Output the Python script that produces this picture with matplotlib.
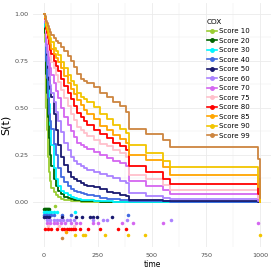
import matplotlib
matplotlib.use("Agg")
import matplotlib.pyplot as plt
from matplotlib.lines import Line2D

groups = ["Score 10", "Score 20", "Score 30", "Score 40", "Score 50", "Score 60",
          "Score 70", "Score 75", "Score 80", "Score 85", "Score 90", "Score 99"]
colors = ["#9ACD32", "#006400", "#00F5FF", "#4169E1", "#191970", "#AB82FF",
          "#D466F0", "#FFC0CB", "#FF0000", "#FFA500", "#F2C500", "#CD853F"]

times = [0, 4, 8, 12, 15, 20, 25, 30, 35, 45, 55, 65, 80, 95, 110, 125, 140, 155,
         170, 185, 200, 230, 260, 290, 320, 350, 380, 392, 470, 550, 585, 990, 1000]

surv_10 = [1.0, 0.85, 0.68, 0.5, 0.38, 0.24, 0.16, 0.11, 0.075, 0.05, 0.038, 0.028, 0.018,
           0.012, 0.008, 0.005, 0.004, 0.003, 0.002, 0.002, 0.001, 0.001, 0.001, 0.0, 0.0,
           0.0, 0.0, 0.0, 0.0, 0.0, 0.0, 0.0, 0.0]
surv_20 = [1.0, 0.9, 0.8, 0.68, 0.58, 0.45, 0.34, 0.25, 0.19, 0.12, 0.085, 0.06, 0.04,
           0.027, 0.019, 0.013, 0.01, 0.008, 0.006, 0.005, 0.004, 0.003, 0.002, 0.002,
           0.001, 0.001, 0.001, 0.001, 0.0, 0.0, 0.0, 0.0, 0.0]
surv_30 = [1.0, 0.93, 0.86, 0.78, 0.72, 0.62, 0.52, 0.41, 0.3, 0.18, 0.12, 0.085, 0.06,
           0.045, 0.034, 0.026, 0.02, 0.016, 0.012, 0.01, 0.008, 0.006, 0.004, 0.003,
           0.002, 0.002, 0.002, 0.001, 0.001, 0.001, 0.001, 0.0, 0.0]
surv_40 = [1.0, 0.95, 0.87, 0.75, 0.66, 0.55, 0.47, 0.43, 0.39, 0.31, 0.25, 0.18, 0.135,
           0.105, 0.085, 0.07, 0.058, 0.05, 0.045, 0.04, 0.035, 0.029, 0.023, 0.018,
           0.014, 0.011, 0.008, 0.005, 0.004, 0.003, 0.002, 0.001, 0.0]
surv_50 = [1.0, 0.97, 0.92, 0.85, 0.78, 0.71, 0.65, 0.6, 0.56, 0.47, 0.38, 0.3, 0.24,
           0.195, 0.16, 0.135, 0.12, 0.11, 0.1, 0.092, 0.085, 0.077, 0.066, 0.055,
           0.045, 0.037, 0.03, 0.012, 0.008, 0.005, 0.003, 0.001, 0.0]
surv_60 = [1.0, 0.95, 0.89, 0.83, 0.79, 0.73, 0.67, 0.62, 0.58, 0.53, 0.48, 0.43, 0.37,
           0.315, 0.275, 0.24, 0.215, 0.2, 0.19, 0.18, 0.17, 0.16, 0.15, 0.14,
           0.125, 0.112, 0.1, 0.045, 0.03, 0.019, 0.013, 0.003, 0.0]
surv_70 = [1.0, 0.96, 0.92, 0.875, 0.845, 0.8, 0.755, 0.71, 0.675, 0.63, 0.59, 0.55, 0.5,
           0.45, 0.41, 0.375, 0.345, 0.315, 0.3, 0.29, 0.28, 0.265, 0.25, 0.235, 0.22,
           0.205, 0.19, 0.11, 0.085, 0.062, 0.04, 0.01, 0.0]
surv_75 = [1.0, 0.97, 0.94, 0.905, 0.88, 0.845, 0.81, 0.775, 0.745, 0.71, 0.675, 0.64,
           0.595, 0.55, 0.51, 0.47, 0.435, 0.4, 0.38, 0.365, 0.35, 0.33, 0.31, 0.295,
           0.275, 0.26, 0.24, 0.145, 0.12, 0.09, 0.062, 0.02, 0.0]
surv_80 = [1.0, 0.975, 0.95, 0.92, 0.9, 0.87, 0.84, 0.81, 0.785, 0.75, 0.725, 0.695, 0.655,
           0.615, 0.58, 0.545, 0.51, 0.475, 0.45, 0.43, 0.41, 0.385, 0.36, 0.34, 0.315,
           0.295, 0.275, 0.19, 0.158, 0.122, 0.096, 0.04, 0.0]
surv_85 = [1.0, 0.98, 0.96, 0.935, 0.915, 0.89, 0.865, 0.84, 0.815, 0.785, 0.765, 0.745,
           0.71, 0.67, 0.635, 0.6, 0.575, 0.54, 0.515, 0.49, 0.47, 0.44, 0.405, 0.38,
           0.355, 0.335, 0.315, 0.25, 0.222, 0.185, 0.145, 0.08, 0.0]
surv_90 = [1.0, 0.985, 0.965, 0.945, 0.93, 0.91, 0.89, 0.87, 0.85, 0.82, 0.8, 0.78, 0.745,
           0.71, 0.675, 0.645, 0.62, 0.58, 0.56, 0.545, 0.53, 0.505, 0.47, 0.44, 0.41,
           0.39, 0.365, 0.3, 0.258, 0.218, 0.187, 0.12, 0.0]
surv_99 = [1.0, 0.99, 0.975, 0.96, 0.95, 0.935, 0.92, 0.905, 0.89, 0.87, 0.858, 0.845,
           0.825, 0.8, 0.775, 0.75, 0.72, 0.68, 0.655, 0.645, 0.635, 0.61, 0.58, 0.56,
           0.53, 0.51, 0.48, 0.39, 0.362, 0.33, 0.293, 0.23, 0.02]

censor_10 = [50]
censor_20 = [0, 5, 10, 15, 20, 25]
censor_30 = [0, 8, 16, 24, 32, 45, 60, 143]
censor_40 = [0, 8, 16, 25, 35, 48, 82, 124, 389]
censor_50 = [0, 8, 15, 25, 82, 151, 175, 213, 225, 245, 313]
censor_60 = [15, 30, 45, 60, 75, 90, 105, 120, 140, 227, 273, 292, 384, 588]
censor_70 = [15, 30, 45, 60, 80, 100, 125, 150, 165, 227, 250, 361, 412, 551, 991]
censor_75 = [20, 70, 140]
censor_80 = [5, 20, 35, 60, 83, 95, 105, 115, 125, 135, 143, 167, 204, 259, 343, 380]
censor_85 = [102]
censor_90 = [143, 181, 190, 282, 389, 468, 1000]
censor_99 = [83]

surv = [surv_10, surv_20, surv_30, surv_40, surv_50, surv_60,
        surv_70, surv_75, surv_80, surv_85, surv_90, surv_99]
censors = [censor_10, censor_20, censor_30, censor_40, censor_50, censor_60,
           censor_70, censor_75, censor_80, censor_85, censor_90, censor_99]

W = H = 274
fig = plt.figure(figsize=(2.74, 2.74), dpi=100)
ax = fig.add_axes([33 / W, 1 - 247 / H, (271 - 33) / W, (247 - 3) / H])
ax.set_xlim(-50, 1050)
ax.set_ylim(-0.24, 1.058)

for s in ax.spines.values():
    s.set_visible(False)

grid_c = "#EBEBEB"
for x in [0, 250, 500, 750, 1000]:
    ax.axvline(x, color=grid_c, lw=0.6, zorder=0)
for x in [125, 375, 625, 875]:
    ax.axvline(x, color=grid_c, lw=0.35, zorder=0)
for y in [0, 0.25, 0.5, 0.75, 1.0]:
    ax.axhline(y, color=grid_c, lw=0.6, zorder=0)
for y in [0.125, 0.375, 0.625, 0.875]:
    ax.axhline(y, color=grid_c, lw=0.35, zorder=0)

for i, (g, c) in enumerate(zip(groups, colors)):
    ax.step(times, surv[i], where="post", color=c, lw=1.3, zorder=2 + i * 0.01)

for i, (g, c) in enumerate(zip(groups, colors)):
    yrow = -0.021 - i * 0.0155
    ax.scatter(censors[i], [yrow] * len(censors[i]), s=6.5, color=c,
               linewidths=0, zorder=3)

ax.set_xticks([0, 250, 500, 750, 1000])
ax.set_xticklabels(["0", "250", "500", "750", "1000"])
ax.set_yticks([0, 0.25, 0.5, 0.75, 1.0])
ax.set_yticklabels(["0.00", "0.25", "0.50", "0.75", "1.00"])
ax.tick_params(axis="x", length=0, labelsize=4.6, colors="#4D4D4D", pad=4)
ax.tick_params(axis="y", length=0, labelsize=4.6, colors="#4D4D4D", pad=3)
ax.set_xlabel("time", fontsize=5.5, labelpad=1.5)
ax.set_ylabel("S(t)", fontsize=8, labelpad=3)

handles = [Line2D([0], [0], color=c, lw=1.2, marker="o", ms=2.5) for c in colors]
leg = fig.legend(handles, groups, title="COX", loc="upper left",
                 bbox_to_anchor=(202 / W, 1 - 14 / H), frameon=False,
                 fontsize=5, title_fontsize=5.3, labelspacing=0.5,
                 handlelength=1.4, handletextpad=0.35, borderpad=0.2)
leg._legend_box.align = "left"

fig.savefig("out.png", dpi=100, facecolor="white")
